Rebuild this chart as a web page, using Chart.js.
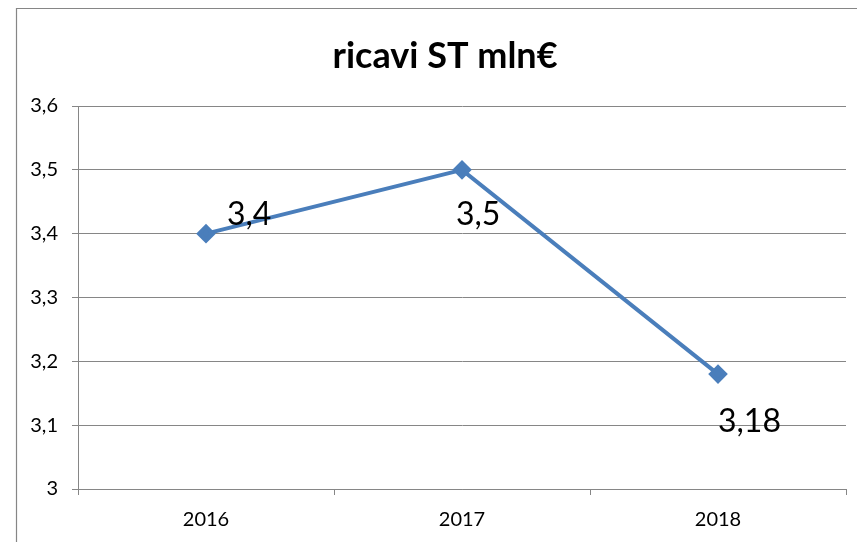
<!DOCTYPE html>
<html>
<head>
<meta charset="utf-8">
<script src="https://cdn.jsdelivr.net/npm/chart.js@4/dist/chart.umd.min.js"></script>
<style>
  html, body { margin: 0; padding: 0; background: #ffffff; }
  #wrap { width: 857px; height: 542px; position: relative; }
</style>
</head>
<body>
<div id="wrap"><canvas id="c" width="857" height="542"></canvas></div>
<script>
const categories = ['2016', '2017', '2018'];
const revenue = [3.4, 3.5, 3.18];
const dataLabels = ['3,4', '3,5', '3,18'];
const titleText = 'ricavi ST mln€';

const FONT = 'Lato, "Open Sans", sans-serif';
const GRID = '#868686';
const LINE = '#4a7ebb';

// label placement relative to each point (left edge, baseline)
const labelOffsets = [[21, -9], [-6, 55], [0, 58]];

const framePlugin = {
  id: 'frame',
  beforeDraw(chart) {
    const ctx = chart.ctx;
    ctx.save();
    ctx.fillStyle = '#ffffff';
    ctx.fillRect(0, 0, chart.width, chart.height);
    ctx.strokeStyle = GRID;
    ctx.lineWidth = 1.2;
    ctx.beginPath();
    ctx.moveTo(16.5, chart.height + 2);
    ctx.lineTo(16.5, 8.5);
    ctx.lineTo(chart.width + 2, 8.5);
    ctx.stroke();
    // title, centred over the frame's inner area
    ctx.fillStyle = '#000000';
    ctx.font = 'bold 36px ' + FONT;
    ctx.textAlign = 'center';
    ctx.textBaseline = 'middle';
    ctx.fillText(titleText, 445, 56);
    ctx.restore();
  }
};

const labelPlugin = {
  id: 'valueLabels',
  afterDatasetsDraw(chart) {
    const ctx = chart.ctx;
    const meta = chart.getDatasetMeta(0);
    ctx.save();
    ctx.font = '32px ' + FONT;
    ctx.fillStyle = '#000000';
    ctx.textAlign = 'left';
    ctx.textBaseline = 'alphabetic';
    meta.data.forEach((pt, i) => {
      const o = labelOffsets[i];
      ctx.fillText(dataLabels[i], pt.x + o[0], pt.y + o[1]);
    });
    ctx.restore();
  }
};

new Chart(document.getElementById('c'), {
  type: 'line',
  data: {
    labels: categories,
    datasets: [{
      data: revenue,
      borderColor: LINE,
      backgroundColor: LINE,
      borderWidth: 4,
      pointStyle: 'rectRot',
      pointRadius: 7,
      pointHoverRadius: 7,
      pointBackgroundColor: LINE,
      pointBorderColor: LINE,
      tension: 0,
      fill: false
    }]
  },
  options: {
    responsive: false,
    animation: false,
    devicePixelRatio: 1,
    layout: { padding: { left: 0, right: 9, top: 106, bottom: 0 } },
    plugins: {
      legend: { display: false },
      tooltip: { enabled: false },
      title: { display: false }
    },
    scales: {
      x: {
        offset: true,
        afterFit(scale) { scale.height = 53; },
        grid: {
          offset: true,
          drawOnChartArea: false,
          drawTicks: true,
          tickLength: 6,
          color: GRID
        },
        border: { display: true, color: GRID, width: 1 },
        ticks: {
          color: '#000000',
          font: { family: FONT, size: 20 },
          padding: 13,
          maxRotation: 0
        }
      },
      y: {
        min: 3,
        max: 3.6,
        afterFit(scale) { scale.width = 78; },
        grid: {
          color: GRID,
          lineWidth: 1,
          drawTicks: true,
          tickLength: 6
        },
        border: { display: true, color: GRID, width: 1 },
        ticks: {
          stepSize: 0.1,
          color: '#000000',
          font: { family: FONT, size: 20 },
          padding: 14,
          callback: (v) => String(Number(Number(v).toFixed(1))).replace('.', ',')
        }
      }
    }
  },
  plugins: [framePlugin, labelPlugin]
});
</script>
</body>
</html>
